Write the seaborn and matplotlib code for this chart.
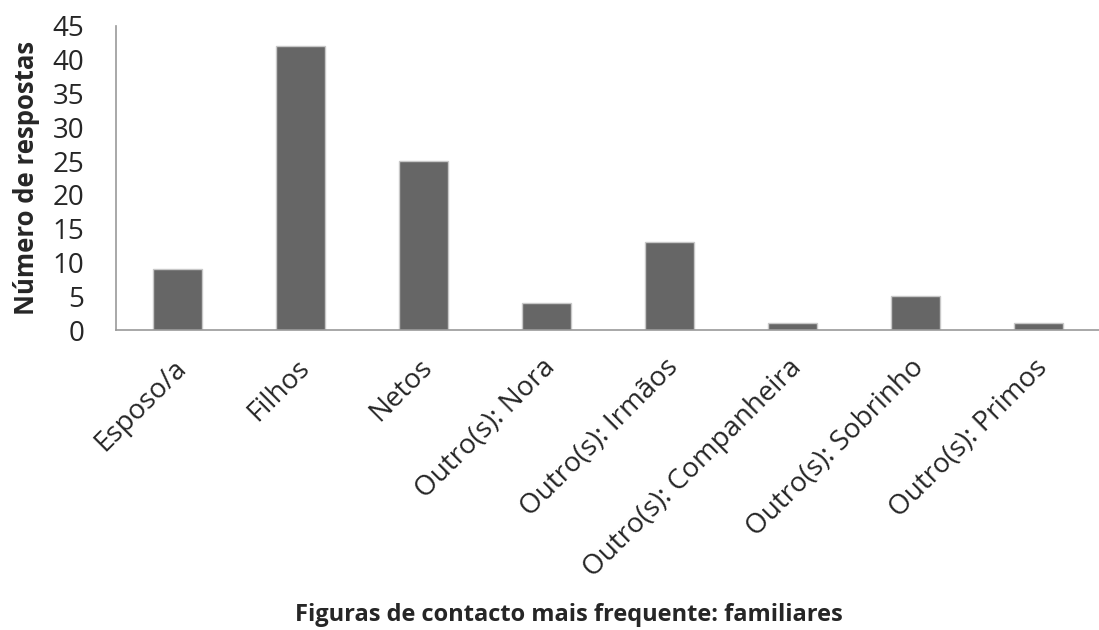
import numpy as np
import pandas as pd
import matplotlib
matplotlib.use("Agg")
import matplotlib.pyplot as plt
import seaborn as sns

# data
categorias = ["Esposo/a", "Filhos", "Netos", "Outro(s): Nora", "Outro(s): Irmãos",
              "Outro(s): Companheira", "Outro(s): Sobrinho", "Outro(s): Primos"]
respostas = [9, 42, 25, 4, 13, 1, 5, 1]
y_ticks = list(range(0, 50, 5))

df = pd.DataFrame({"categoria": categorias, "respostas": respostas})

sns.set_style("white")
plt.rcParams["font.family"] = ["Open Sans", "DejaVu Sans"]

fig = plt.figure(figsize=(10.99, 6.3), dpi=100)
ax = fig.add_axes([0.1056, 0.476, 0.895, 0.483])

sns.barplot(data=df, x="categoria", y="respostas", color="#666666", width=0.4,
            edgecolor="#c8c8c8", linewidth=1, saturation=1, ax=ax)

ax.set_ylim(0, 45)
ax.set_yticks(y_ticks)
ax.set_xlim(-0.5, len(categorias) - 0.5)
ax.set_xticks(np.arange(len(categorias)) - 0.04)
ax.set_xticks(np.arange(len(categorias) + 1) - 0.5, minor=True)
ax.set_xticklabels(categorias, rotation=45, ha="right", rotation_mode="anchor", fontsize=20)
ax.tick_params(axis="x", which="major", length=0, pad=17)
ax.tick_params(axis="x", which="minor", length=8, color="#999999", width=1.2)
ax.tick_params(axis="y", length=8, color="#999999", width=1.2, labelsize=20, pad=15)

for s in ["top", "right"]:
    ax.spines[s].set_visible(False)
for s in ["left", "bottom"]:
    ax.spines[s].set_color("#999999")
    ax.spines[s].set_linewidth(1.2)

ax.set_ylabel("Número de respostas", fontsize=18.5, fontweight="bold")
ax.yaxis.set_label_coords(-0.077, 0.5)
ax.set_xlabel("")
fig.text(0.518, 0.014, "Figuras de contacto mais frequente: familiares", ha="center",
         fontsize=17, fontweight="bold")

fig.savefig("out.png", dpi=100)
